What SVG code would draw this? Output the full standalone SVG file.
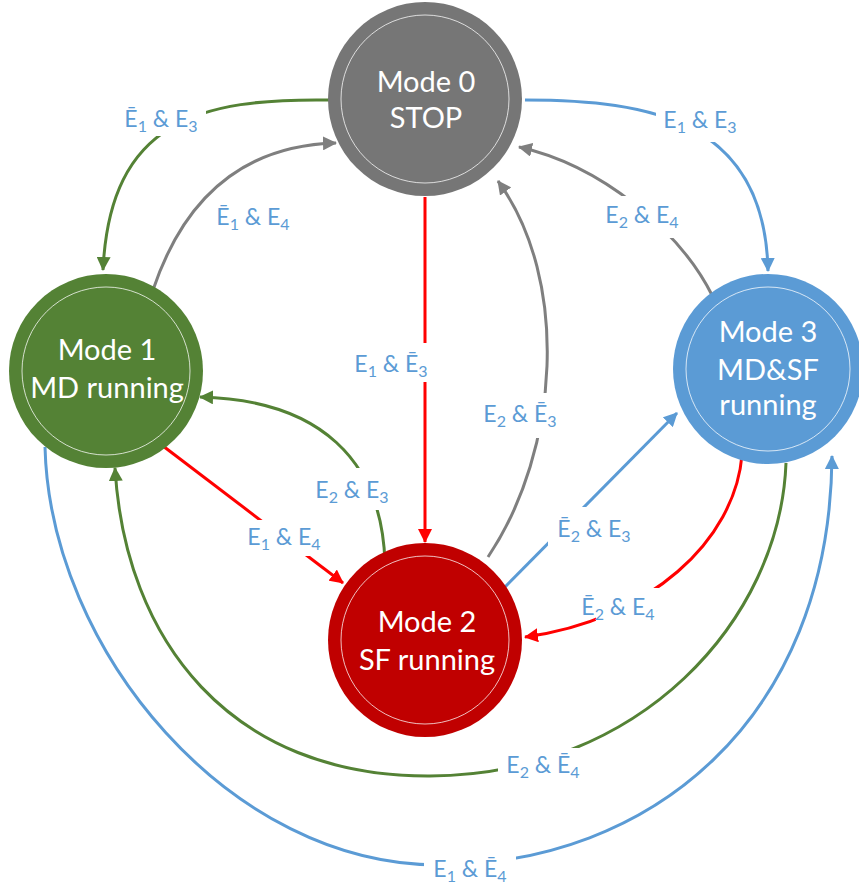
<svg xmlns="http://www.w3.org/2000/svg" width="859" height="888" viewBox="0 0 859 888">
<style>
.node-text{font-family:Lato,"Open Sans","Liberation Sans",sans-serif;font-size:29px;fill:#fff;text-anchor:middle}
.inner{fill:none;stroke:#fff;stroke-opacity:0.75;stroke-width:1}
.lbl{font-family:Lato,"Open Sans","Liberation Sans",sans-serif;font-size:23px;fill:#5B9BD5;text-anchor:middle}
.sub{font-size:16px}
.bg{fill:#fff}
.c{fill:none;stroke-width:3}
.green{stroke:#548235}.gray{stroke:#7F7F7F}.blue{stroke:#5B9BD5}.red{stroke:#FF0000}
</style>
<defs>
<marker id="ag" viewBox="0 0 14 14" refX="13" refY="7" markerWidth="14" markerHeight="14" markerUnits="userSpaceOnUse" orient="auto"><path d="M0,0 L14,7 L0,14 z" fill="#548235"/></marker>
<marker id="ak" viewBox="0 0 14 14" refX="13" refY="7" markerWidth="14" markerHeight="14" markerUnits="userSpaceOnUse" orient="auto"><path d="M0,0 L14,7 L0,14 z" fill="#7F7F7F"/></marker>
<marker id="ab" viewBox="0 0 14 14" refX="13" refY="7" markerWidth="14" markerHeight="14" markerUnits="userSpaceOnUse" orient="auto"><path d="M0,0 L14,7 L0,14 z" fill="#5B9BD5"/></marker>
<marker id="ar" viewBox="0 0 14 14" refX="13" refY="7" markerWidth="14" markerHeight="14" markerUnits="userSpaceOnUse" orient="auto"><path d="M0,0 L14,7 L0,14 z" fill="#FF0000"/></marker>
</defs>
<rect width="859" height="888" fill="#fff"/>
<g id="connectors">
<path class="c green" d="M330,100 C200,98 110,120 103,270" marker-end="url(#ag)"/>
<path class="c gray" d="M153,290 C190,180 260,145 336,143" marker-end="url(#ak)"/>
<path class="c blue" d="M525,100 C650,100 765,120 768,271" marker-end="url(#ab)"/>
<path class="c gray" d="M713,297 C680,230 600,165 519,147" marker-end="url(#ak)"/>
<path class="c red" d="M425,197 L425,542" marker-end="url(#ar)"/>
<path class="c gray" d="M488,557 C560,450 570,280 498,181" marker-end="url(#ak)"/>
<path class="c blue" d="M505,587 L677,413" marker-end="url(#ab)"/>
<path class="c red" d="M742,455 C735,540 650,620 525,637" marker-end="url(#ar)"/>
<path class="c green" d="M385,563 C382,460 320,400 200,397" marker-end="url(#ag)"/>
<path class="c red" d="M163,446 L343,583" marker-end="url(#ar)"/>
<path class="c green" d="M786,463 C780,620 640,775 430,776 C230,777 125,640 115,468" marker-end="url(#ag)"/>
<path class="c blue" d="M45,447 C50,650 230,866 440,865 C650,864 830,720 832,456" marker-end="url(#ab)"/>
</g>
<g id="labels">
<rect class="bg" x="116" y="106" width="90" height="30"/>
<text class="lbl" x="161" y="127">Ē<tspan class="sub" dy="5">1</tspan><tspan dy="-5"> &amp; E</tspan><tspan class="sub" dy="5">3</tspan></text>
<text class="lbl" x="253" y="225">Ē<tspan class="sub" dy="5">1</tspan><tspan dy="-5"> &amp; E</tspan><tspan class="sub" dy="5">4</tspan></text>
<rect class="bg" x="656" y="106" width="90" height="36"/>
<text class="lbl" x="700" y="128">E<tspan class="sub" dy="5">1</tspan><tspan dy="-5"> &amp; E</tspan><tspan class="sub" dy="5">3</tspan></text>
<rect class="bg" x="598" y="196" width="90" height="42"/>
<text class="lbl" x="642" y="223">E<tspan class="sub" dy="5">2</tspan><tspan dy="-5"> &amp; E</tspan><tspan class="sub" dy="5">4</tspan></text>
<rect class="bg" x="347" y="343" width="88" height="39"/>
<text class="lbl" x="391" y="372">E<tspan class="sub" dy="5">1</tspan><tspan dy="-5"> &amp; Ē</tspan><tspan class="sub" dy="5">3</tspan></text>
<rect class="bg" x="475" y="393" width="90" height="45"/>
<text class="lbl" x="520" y="422">E<tspan class="sub" dy="5">2</tspan><tspan dy="-5"> &amp; Ē</tspan><tspan class="sub" dy="5">3</tspan></text>
<rect class="bg" x="308" y="468" width="90" height="42"/>
<text class="lbl" x="352" y="498">E<tspan class="sub" dy="5">2</tspan><tspan dy="-5"> &amp; E</tspan><tspan class="sub" dy="5">3</tspan></text>
<rect class="bg" x="239" y="520" width="90" height="36"/>
<text class="lbl" x="284" y="545">E<tspan class="sub" dy="5">1</tspan><tspan dy="-5"> &amp; E</tspan><tspan class="sub" dy="5">4</tspan></text>
<rect class="bg" x="548" y="507" width="92" height="40"/>
<text class="lbl" x="594" y="537">Ē<tspan class="sub" dy="5">2</tspan><tspan dy="-5"> &amp; E</tspan><tspan class="sub" dy="5">3</tspan></text>
<rect class="bg" x="596" y="588" width="68" height="40"/>
<text class="lbl" x="618" y="615">Ē<tspan class="sub" dy="5">2</tspan><tspan dy="-5"> &amp; E</tspan><tspan class="sub" dy="5">4</tspan></text>
<rect class="bg" x="498" y="748" width="92" height="34"/>
<text class="lbl" x="543" y="773">E<tspan class="sub" dy="5">2</tspan><tspan dy="-5"> &amp; Ē</tspan><tspan class="sub" dy="5">4</tspan></text>
<rect class="bg" x="424" y="850" width="92" height="36"/>
<text class="lbl" x="470" y="877">E<tspan class="sub" dy="5">1</tspan><tspan dy="-5"> &amp; Ē</tspan><tspan class="sub" dy="5">4</tspan></text>
</g>
<g id="mode0">
<circle cx="425" cy="99" r="97" fill="#767676"/>
<circle class="inner" cx="425" cy="99" r="84"/>
<text class="node-text" x="426" y="92">Mode 0</text>
<text class="node-text" x="426" y="128">STOP</text>
</g>
<g id="mode1">
<circle cx="106" cy="371" r="97" fill="#548235"/>
<circle class="inner" cx="106" cy="371" r="84"/>
<text class="node-text" x="107" y="360">Mode 1</text>
<text class="node-text" x="107" y="398">MD running</text>
</g>
<g id="mode2">
<circle cx="425" cy="640" r="97" fill="#C00000"/>
<circle class="inner" cx="425" cy="640" r="84"/>
<text class="node-text" x="427" y="632">Mode 2</text>
<text class="node-text" x="427" y="670">SF running</text>
</g>
<g id="mode3">
<circle cx="768" cy="369" r="95" fill="#5B9BD5"/>
<circle class="inner" cx="768" cy="369" r="82"/>
<text class="node-text" x="768" y="342">Mode 3</text>
<text class="node-text" x="768" y="380">MD&amp;SF</text>
<text class="node-text" x="768" y="415">running</text>
</g>
</svg>
